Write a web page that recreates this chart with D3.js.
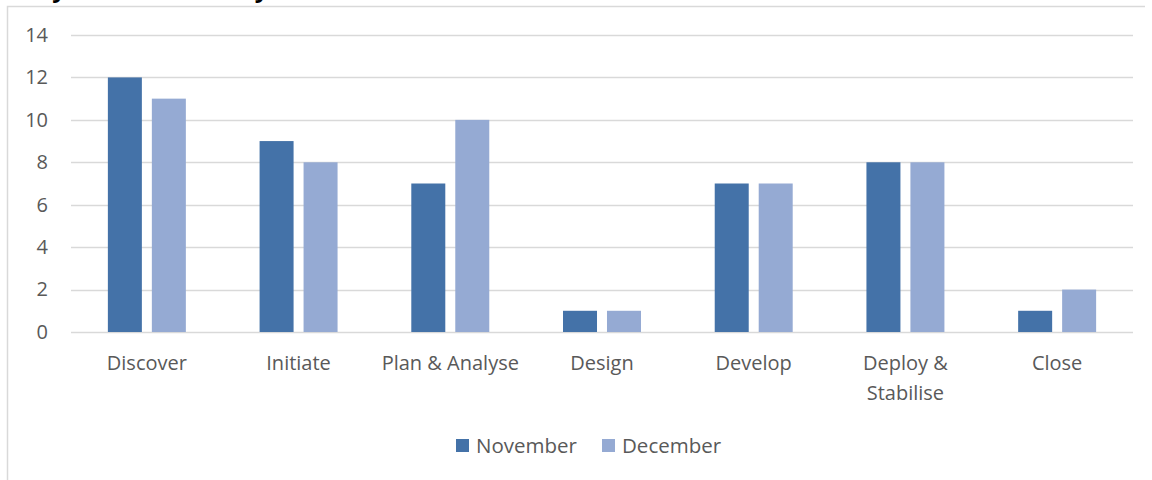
<!DOCTYPE html>
<html>
<head>
<meta charset="utf-8">
<script src="https://cdn.jsdelivr.net/npm/d3@7"></script>
<style>
  body { margin: 0; background: #fff; }
  text { font-family: "Open Sans", "Noto Sans", sans-serif; }
</style>
</head>
<body>
<div id="chart"></div>
<script>
const width = 1152;
const height = 480;

const categories = ['Discover', 'Initiate', 'Plan & Analyse', 'Design', 'Develop', 'Deploy & Stabilise', 'Close'];
const seriesNames = ['November', 'December'];
const november = [12, 9, 7, 1, 7, 8, 1];
const december = [11, 8, 10, 1, 7, 8, 2];
const yTicks = [0, 2, 4, 6, 8, 10, 12, 14];
const colors = ['#4472a8', '#95aad3'];

const margin = { top: 35, right: 19, bottom: 148, left: 71 };

const svg = d3.select('#chart')
  .append('svg')
  .attr('width', width)
  .attr('height', height);

// title is clipped by the top of the picture, only descenders show
svg.append('text')
  .attr('x', 36)
  .attr('y', -3)
  .attr('font-weight', 'bold')
  .attr('font-size', 24)
  .attr('fill', '#000')
  .text('By Phase – Monthly');

// chart frame
svg.append('path')
  .attr('d', 'M7.5,480V6.5H1145')
  .attr('fill', 'none')
  .attr('stroke', '#d9d9d9')
  .attr('stroke-width', 1.5);

const x0 = d3.scaleBand()
  .domain(categories)
  .range([margin.left, width - margin.right])
  .paddingInner(0.486)
  .paddingOuter(0.243);

const x1 = d3.scaleBand()
  .domain(seriesNames)
  .range([0, x0.bandwidth()])
  .paddingInner(0.227);

const y = d3.scaleLinear()
  .domain([0, 14])
  .range([height - margin.bottom, margin.top]);

// gridlines
svg.append('g')
  .selectAll('line')
  .data(yTicks)
  .enter()
  .append('line')
  .attr('x1', margin.left)
  .attr('x2', width - margin.right)
  .attr('y1', d => Math.round(y(d)) + 0.5)
  .attr('y2', d => Math.round(y(d)) + 0.5)
  .attr('stroke', '#d9d9d9')
  .attr('stroke-width', 1.5);

// y labels
const yAxis = d3.axisLeft(y).tickValues(yTicks).tickSize(0).tickPadding(0);
svg.append('g')
  .attr('transform', `translate(${margin.left - 23}, 0)`)
  .call(yAxis)
  .call(g => g.select('.domain').remove())
  .call(g => g.selectAll('text')
    .attr('font-family', '"Open Sans", sans-serif')
    .attr('font-size', 20)
    .attr('fill', '#595959'));

function wrap(textSel, maxWidth) {
  textSel.each(function () {
    const text = d3.select(this);
    const words = text.text().split(/\s+/);
    const xPos = text.attr('x');
    text.text(null);
    let line = [];
    let tspan = text.append('tspan').attr('x', xPos).attr('dy', 0);
    words.forEach((w) => {
      line.push(w);
      tspan.text(line.join(' '));
      if (tspan.node().getComputedTextLength() > maxWidth && line.length > 1) {
        line.pop();
        tspan.text(line.join(' '));
        line = [w];
        tspan = text.append('tspan').attr('x', xPos).attr('dy', '1.5em').text(w);
      }
    });
  });
}

// x labels
svg.append('g')
  .selectAll('text')
  .data(categories)
  .enter()
  .append('text')
  .attr('x', d => x0(d) + x0.bandwidth() / 2)
  .attr('y', 370)
  .attr('text-anchor', 'middle')
  .attr('font-size', 20)
  .attr('fill', '#595959')
  .text(d => d)
  .call(wrap, x0.step() - 2);

// bars
const data = categories.map((c, i) => ({ cat: c, values: [november[i], december[i]] }));
const groups = svg.append('g')
  .selectAll('g')
  .data(data)
  .enter()
  .append('g')
  .attr('transform', d => `translate(${x0(d.cat)},0)`);

groups.selectAll('rect')
  .data(d => d.values.map((v, i) => ({ key: seriesNames[i], value: v, idx: i })))
  .enter()
  .append('rect')
  .attr('x', d => x1(d.key))
  .attr('y', d => y(d.value))
  .attr('width', x1.bandwidth())
  .attr('height', d => y(0) - y(d.value))
  .attr('fill', d => colors[d.idx]);

// legend
const legendItems = [
  { name: seriesNames[0], color: colors[0], x: 456 },
  { name: seriesNames[1], color: colors[1], x: 602 },
];
const legend = svg.append('g');
legend.selectAll('rect')
  .data(legendItems)
  .enter()
  .append('rect')
  .attr('x', d => d.x)
  .attr('y', 439)
  .attr('width', 13)
  .attr('height', 13)
  .attr('fill', d => d.color);
legend.selectAll('text')
  .data(legendItems)
  .enter()
  .append('text')
  .attr('x', d => d.x + 20)
  .attr('y', 453)
  .attr('font-size', 20.5)
  .attr('fill', '#595959')
  .text(d => d.name);
</script>
</body>
</html>
